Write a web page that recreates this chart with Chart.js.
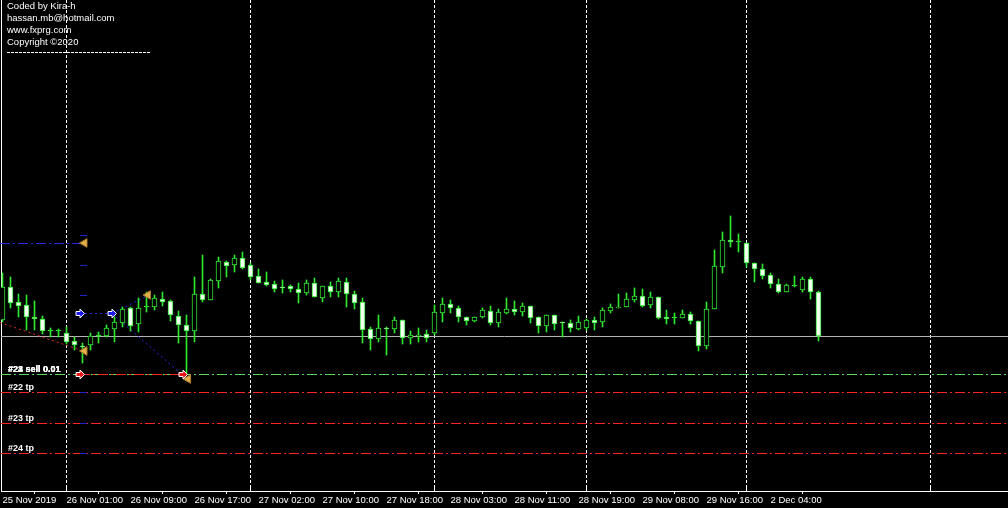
<!DOCTYPE html>
<html>
<head>
<meta charset="utf-8">
<script src="https://cdn.jsdelivr.net/npm/chart.js@4.4.0/dist/chart.umd.min.js"></script>
<style>
  html, body { margin: 0; padding: 0; background: #000; overflow: hidden; }
</style>
</head>
<body>
<canvas id="chart" width="1008" height="508"></canvas>
<script>
// H1 candles (price in points)
const open = [180,213,198,195,183,181,169,169,167,159, 154,155,164,164,171,177,192,176,193,193,
  201,199,184,175,169,206,200,219,238,235, 242,235,224,218,216,213,214,211,207,217,
  202,214,208,218,206,198,171,161,172,171, 180,162,164,166,167,187,196,192,183,179,
  183,189,177,187,191,188,194,183,174,185, 178,177,171,172,180,178,189,192,193,200,
  204,195,203,183,182,182,186,179,154,191, 233,260,258,257,237,231,225,216,208,214,
  210,221,208];
const high = [227,223,206,205,199,184,172,171,173,163, 157,167,168,175,183,193,193,202,208,205,
  208,200,189,185,223,245,221,243,239,245, 248,237,231,228,219,220,215,217,220,222,
  214,218,222,222,209,202,173,185,173,183, 180,169,172,170,195,202,200,194,183,183,
  192,194,191,202,199,197,194,183,185,185, 178,180,184,181,183,192,196,206,207,212,
  211,208,203,190,187,190,188,179,198,250, 268,284,266,257,237,236,227,221,216,224,
  223,223,209];
const low = [178,192,183,170,170,166,163,163,156,150, 137,150,157,163,158,173,169,168,188,190,
  194,179,157,125,158,198,200,212,223,228, 231,220,217,214,208,207,208,197,205,203,
  198,203,203,193,191,157,150,158,145,167, 156,156,158,158,165,178,187,178,175,178,
  182,175,173,186,185,184,177,167,168,170, 163,168,170,170,170,173,187,192,193,198,
  193,192,181,176,176,182,176,149,151,191, 227,253,248,233,218,221,212,207,208,213,
  208,201,159];
const close = [213,197,194,183,181,169,169,169,158,155, 153,164,164,172,178,191,174,192,193,202,
  198,185,175,169,206,200,220,239,234,242, 232,223,217,215,211,212,211,207,217,203,
  214,208,219,206,197,170,161,172,171,180, 162,165,165,162,188,196,192,183,179,183,
  190,177,188,191,188,194,182,174,185,176, 177,172,178,180,177,190,193,193,201,204,
  194,203,182,181,182,186,179,154,191,234, 260,258,258,237,231,224,216,208,215,214,
  221,208,164];

const tickIdx = [0,8,16,24,32,40,48,56,64,72,80,88,96];
const tickLabels = ['25 Nov 2019','26 Nov 01:00','26 Nov 09:00','26 Nov 17:00','27 Nov 02:00',
  '27 Nov 10:00','27 Nov 18:00','28 Nov 03:00','28 Nov 11:00','28 Nov 19:00',
  '29 Nov 08:00','29 Nov 16:00','2 Dec 04:00'];
const daySep = [8,31,54,73,93,116];

const bidPrice = 164;
const sellOpen = 126;
const tpLevels = [107,77,47];
const tpNames = ['#22 tp','#23 tp','#24 tp'];
const sellNames = ['#22 sell 0.01','#23 sell 0.01','#24 sell 0.01'];
const infoLines = ['Coded by Kira-h','hassan.mb@hotmail.com','www.fxprg.com','Copyright \u00a92020'];

// trades: [bar1, price1, bar2, price2]
const pendingBuy = [[-0.31,257,10.25,257]];
const buyTrades = [[9.69,186,13.69,186],[13.69,186,18.19,205],[13.69,186,22.56,125]];
const sellTrades = [[-0.31,178,10.25,149]];
const sellSegment = [[9.69,126,22.56,126]];
const buyArrows = [[9.69,186],[13.69,186]];
const sellArrows = [[9.69,126],[22.56,126]];
const closeMarks = [[10.25,257],[10.25,149],[18.19,205],[23.2,121]];
const stopMarks = [265,235,205,107,77,47];

const GREEN = '#2ee82e';

const bodies = open.map((o, i) => ({ x: i, y: [o, close[i]] }));
const wicks = open.map((o, i) => ({ x: i, y: [low[i], high[i]] }));
const bodyFill = open.map((o, i) => close[i] > o ? '#000' : (close[i] < o ? '#f4fff4' : GREEN));

function arrow(ctx, cx, cy, color) {
  ctx.beginPath();
  ctx.moveTo(cx - 4, cy - 2);
  ctx.lineTo(cx, cy - 2);
  ctx.lineTo(cx, cy - 4.5);
  ctx.lineTo(cx + 4.5, cy);
  ctx.lineTo(cx, cy + 4.5);
  ctx.lineTo(cx, cy + 2);
  ctx.lineTo(cx - 4, cy + 2);
  ctx.closePath();
  ctx.fillStyle = color;
  ctx.fill();
  ctx.strokeStyle = '#fff';
  ctx.lineWidth = 1;
  ctx.setLineDash([]);
  ctx.stroke();
}

const overlay = {
  id: 'overlay',
  beforeDatasetsDraw(chart) {
    const { ctx, chartArea: a, scales: { x, y } } = chart;
    const py = v => Math.floor(y.getPixelForValue(v)) + 0.5;
    const seg = (s) => {
      ctx.beginPath();
      ctx.moveTo(x.getPixelForValue(s[0]), py(s[1]));
      ctx.lineTo(x.getPixelForValue(s[2]), py(s[3]));
      ctx.stroke();
    };
    ctx.save();
    ctx.lineWidth = 1;

    // info text
    ctx.fillStyle = '#fff';
    ctx.font = '9.5px "Liberation Sans"';
    infoLines.forEach((t, i) => ctx.fillText(t, 7, 9 + 12 * i));
    ctx.strokeStyle = '#fff';
    ctx.setLineDash([3, 1]);
    ctx.beginPath(); ctx.moveTo(7, 52.5); ctx.lineTo(150, 52.5); ctx.stroke();

    // left border
    ctx.setLineDash([]);
    ctx.beginPath(); ctx.moveTo(a.left + 0.5, 0); ctx.lineTo(a.left + 0.5, a.bottom); ctx.stroke();

    // day separators
    ctx.setLineDash([3, 2]);
    daySep.forEach(d => {
      const px = x.getPixelForValue(d);
      ctx.beginPath(); ctx.moveTo(px, a.top); ctx.lineTo(px, a.bottom); ctx.stroke();
    });
    ctx.setLineDash([]);
    daySep.forEach(d => {
      const px = x.getPixelForValue(d);
      ctx.beginPath(); ctx.moveTo(px, a.bottom - 4); ctx.lineTo(px, a.bottom); ctx.stroke();
    });

    // bid line
    ctx.strokeStyle = '#b4b4b4';
    ctx.beginPath(); ctx.moveTo(a.left, py(bidPrice)); ctx.lineTo(a.right, py(bidPrice)); ctx.stroke();

    // order lines
    ctx.setLineDash([10, 3, 2, 3]);
    ctx.strokeStyle = '#5fd85f';
    ctx.beginPath(); ctx.moveTo(a.left, py(sellOpen)); ctx.lineTo(a.right, py(sellOpen)); ctx.stroke();
    ctx.strokeStyle = '#ff2424';
    tpLevels.forEach(v => {
      ctx.beginPath(); ctx.moveTo(a.left, py(v)); ctx.lineTo(a.right, py(v)); ctx.stroke();
    });
    sellSegment.forEach(seg);
    ctx.strokeStyle = '#2a2ae0';
    pendingBuy.forEach(seg);

    // stop marks
    ctx.setLineDash([]);
    ctx.strokeStyle = '#2222d0';
    stopMarks.forEach(v => seg([9.69, v, 10.56, v]));

    // closed trade lines
    ctx.setLineDash([2, 3]);
    ctx.strokeStyle = '#2a2ae0';
    buyTrades.forEach(seg);
    ctx.strokeStyle = '#e02a2a';
    sellTrades.forEach(seg);

    // labels
    ctx.setLineDash([]);
    ctx.fillStyle = '#fff';
    ctx.font = 'bold 9px "Liberation Sans"';
    sellNames.forEach(t => ctx.fillText(t, 8, py(sellOpen) - 2.5));
    tpLevels.forEach((v, i) => ctx.fillText(tpNames[i], 8, py(v) - 2.5));
    ctx.restore();
  },
  afterDatasetsDraw(chart) {
    const { ctx, scales: { x, y } } = chart;
    ctx.save();
    buyArrows.forEach(p => arrow(ctx, x.getPixelForValue(p[0]), Math.floor(y.getPixelForValue(p[1])) + 0.5, '#1818e8'));
    sellArrows.forEach(p => arrow(ctx, x.getPixelForValue(p[0]), Math.floor(y.getPixelForValue(p[1])) + 0.5, '#e81818'));
    ctx.restore();
  }
};

new Chart(document.getElementById('chart'), {
  type: 'bar',
  data: {
    datasets: [
      {
        type: 'scatter',
        data: closeMarks.map(p => ({ x: p[0], y: p[1] })),
        pointStyle: 'triangle',
        rotation: 270,
        radius: 5,
        backgroundColor: '#e4b04c',
        borderColor: '#a8782a',
        borderWidth: 1,
        order: 0
      },
      {
        data: bodies,
        backgroundColor: bodyFill,
        borderColor: GREEN,
        borderWidth: 1,
        borderSkipped: false,
        barThickness: 5,
        minBarLength: 1,
        grouped: false,
        order: 1
      },
      {
        data: wicks,
        backgroundColor: GREEN,
        barThickness: 1,
        grouped: false,
        order: 2
      }
    ]
  },
  options: {
    responsive: false,
    animation: false,
    devicePixelRatio: 1,
    layout: { autoPadding: false, padding: { left: 1, right: 0, top: 0, bottom: 0 } },
    plugins: { legend: { display: false }, tooltip: { enabled: false } },
    scales: {
      x: {
        type: 'linear',
        min: -0.1875,
        max: 125.6875,
        offset: false,
        afterBuildTicks: s => { s.ticks = tickIdx.map(v => ({ value: v })); },
        afterFit: s => { s.height = 17; },
        grid: { drawOnChartArea: false, drawTicks: true, tickLength: 3, color: '#fff' },
        border: { color: '#fff' },
        ticks: {
          color: '#fff',
          align: 'start',
          padding: 1,
          autoSkip: false,
          maxRotation: 0,
          font: { family: 'Liberation Sans', size: 9.5 },
          callback: v => tickLabels[tickIdx.indexOf(v)]
        }
      },
      y: { display: false, min: 9, max: 500 }
    }
  },
  plugins: [overlay]
});
</script>
</body>
</html>
